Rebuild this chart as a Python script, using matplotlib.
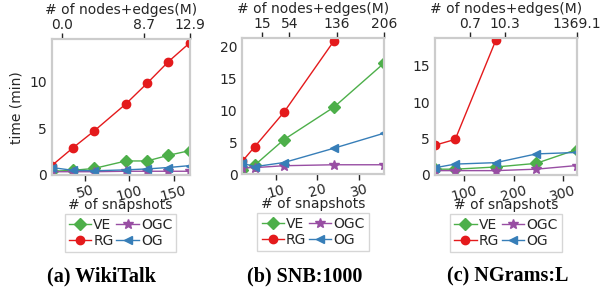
"""Runtime vs number of snapshots for three datasets"""

import matplotlib
matplotlib.use("Agg")
import matplotlib.pyplot as plt

# series order: VE, RG, OGC, OG
labels = ["VE", "RG", "OGC", "OG"]
colors = ["#4daf4a", "#e41a1c", "#984ea3", "#377eb8"]
markers = ["D", "o", "*", "<"]

# (a) WikiTalk
wiki_x = [12, 36, 60, 96, 120, 144, 168]
wiki_ve = [0.4, 0.5, 0.7, 1.5, 1.5, 2.1, 2.6]
wiki_rg = [1.0, 2.9, 4.7, 7.6, 9.8, 12.1, 14.1]
wiki_ogc = [0.35, 0.35, 0.35, 0.4, 0.4, 0.4, 0.4]
wiki_og = [0.8, 0.5, 0.45, 0.55, 0.65, 0.8, 1.0]
wiki_top_pos = [24, 117, 168]
wiki_top_lbl = ["0.0", "8.7", "12.9"]

# (b) SNB:1000
snb_x = [2, 5, 12, 24, 36]
snb_ve = [0.6, 1.4, 5.4, 10.5, 17.4]
snb_rg = [2.0, 4.3, 9.7, 20.9]
snb_ogc = [1.0, 1.0, 1.3, 1.45, 1.45]
snb_og = [1.7, 1.15, 1.8, 4.05, 6.4]
snb_top_pos = [6.8, 13.3, 24.7, 36]
snb_top_lbl = ["15", "54", "136", "206"]

# (c) NGrams:L
ng_x = [41, 82, 164, 246, 328]
ng_ve = [0.8, 0.8, 1.1, 1.6, 3.5]
ng_rg = [4.1, 4.9, 18.5]
ng_ogc = [0.6, 0.6, 0.6, 0.8, 1.3]
ng_og = [1.0, 1.5, 1.7, 2.9, 3.1]
ng_top_pos = [112, 183, 328]
ng_top_lbl = ["0.7", "10.3", "1369.1"]

panels = [
    dict(x=wiki_x, ys=[wiki_ve, wiki_rg, wiki_ogc, wiki_og], top=(wiki_top_pos, wiki_top_lbl),
         xticks=[50, 100, 150], yticks=[0, 5, 10], ylim=(0, 14.5), caption="(a) WikiTalk",
         rect=[51.7, 39.3, 189.5, 175]),
    dict(x=snb_x, ys=[snb_ve, snb_rg, snb_ogc, snb_og], top=(snb_top_pos, snb_top_lbl),
         xticks=[10, 20, 30], yticks=[0, 5, 10, 15, 20], ylim=(0, 21.3), caption="(b) SNB:1000",
         rect=[242.3, 38.3, 384, 174]),
    dict(x=ng_x, ys=[ng_ve, ng_rg, ng_ogc, ng_og], top=(ng_top_pos, ng_top_lbl),
         xticks=[100, 200, 300], yticks=[0, 5, 10, 15], ylim=(0, 18.8), caption="(c) NGrams:L",
         rect=[435, 38.3, 576.7, 175]),
]

W, H = 609, 295
plt.rcParams["font.family"] = "DejaVu Sans"
plt.rcParams["font.size"] = 10
text_col = "#262626"
spine_col = "#cccccc"

fig = plt.figure(figsize=(W / 100, H / 100), dpi=100)

for i, p in enumerate(panels):
    x0, y0, x1, y1 = p["rect"]
    ax = fig.add_axes([x0 / W, 1 - y1 / H, (x1 - x0) / W, (y1 - y0) / H])
    ax_h = y1 - y0

    for ys, lab, col, mk in zip(p["ys"], labels, colors, markers):
        ax.plot(p["x"][:len(ys)], ys, color=col, marker=mk, markersize=7 if mk == "*" else 6,
                linewidth=1, label=lab, clip_on=True)

    ax.set_xlim(p["x"][0], p["x"][-1])
    ax.set_ylim(*p["ylim"])
    ax.set_xticks(p["xticks"])
    ax.set_yticks(p["yticks"])
    ax.tick_params(axis="x", length=4, width=1, colors=text_col, labelsize=10, labelrotation=15,
                   pad=2)
    ax.tick_params(axis="y", length=0, colors=text_col, labelsize=10)
    ax.set_xlabel("# of snapshots", color=text_col, va="center")
    # put the label where the reference has it, below the rotated ticks
    ax.xaxis.set_label_coords(0.5, (175 - 205) / ax_h)
    if i == 0:
        ax.set_ylabel("time (min)", color=text_col)
    for s in ax.spines.values():
        s.set_color(spine_col)
        s.set_linewidth(1.5)

    top = ax.twiny()
    top.set_xlim(ax.get_xlim())
    top.set_xticks(p["top"][0])
    top.set_xticklabels(p["top"][1])
    top.tick_params(axis="x", length=4, width=1, colors=text_col, labelsize=10, pad=1)
    top.set_xlabel("# of nodes+edges(M)", color=text_col, labelpad=3)
    for s in top.spines.values():
        s.set_color(spine_col)
        s.set_linewidth(1.5)

    leg = ax.legend(loc="upper center", bbox_to_anchor=(0.5, (175 - 214) / ax_h), ncol=2,
                    fontsize=10, frameon=True, fancybox=False, borderaxespad=0,
                    handlelength=1.6, handletextpad=0.15, columnspacing=0.2,
                    labelspacing=0.1, borderpad=0.3)
    leg.get_frame().set_edgecolor(spine_col)
    leg.get_frame().set_linewidth(1)
    for t in leg.get_texts():
        t.set_color(text_col)

    fig.text((2 * i + 1) / 6, 1 - 276 / H, p["caption"], ha="center", va="center",
             family="Liberation Serif", fontweight="bold", fontsize=14.5)

fig.savefig("out.png", dpi=100)
